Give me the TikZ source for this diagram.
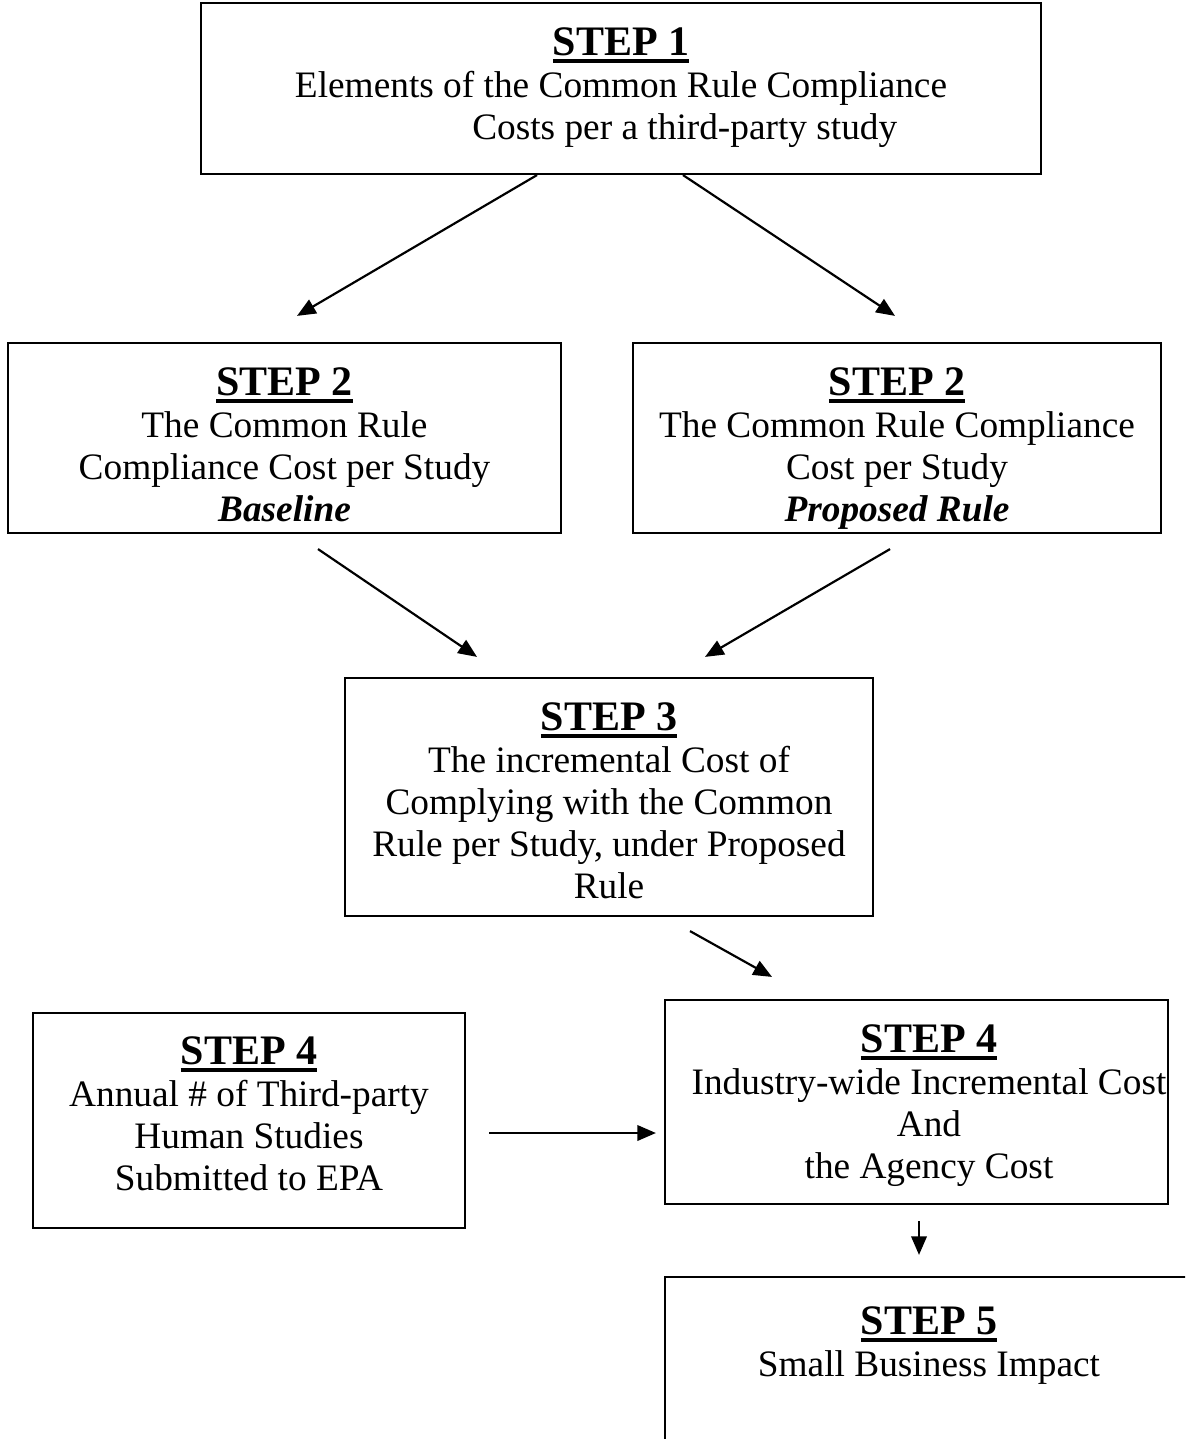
\documentclass[tikz,border=0pt]{standalone}
\usepackage{fontspec}
\setmainfont{Liberation Serif}
\usetikzlibrary{arrows.meta}
\newdimen\pxu \pxu=0.3215pt
\newcommand{\steptitle}[1]{{\fontsize{13.5pt}{13.5pt}\selectfont\bfseries\setbox0\hbox{#1}\rlap{\rule[-2.4pt]{\wd0}{1.2pt}}\box0}}

\begin{document}
\begin{tikzpicture}[x=0.3215pt,y=-0.3215pt,>={Triangle[length=6pt,width=5pt]},
  box/.style={draw,line width=0.7pt,inner sep=0pt},
  txt/.style={anchor=north,align=center,inner sep=0pt,font=\fontsize{12pt}{13.5pt}\selectfont},
  arr/.style={->,line width=0.7pt}]
  \clip (0,0) rectangle (1185,1439);
  % boxes
  \node[box,minimum width=840*\pxu,minimum height=171*\pxu] (s1) at (621,88.5) {};
  \node[box,minimum width=553*\pxu,minimum height=190*\pxu] (s2a) at (284.5,438) {};
  \node[box,minimum width=528*\pxu,minimum height=190*\pxu] (s2b) at (897,438) {};
  \node[box,minimum width=528*\pxu,minimum height=238*\pxu] (s3) at (609,797) {};
  \node[box,minimum width=432*\pxu,minimum height=215*\pxu] (s4a) at (249,1120.5) {};
  \node[box,minimum width=503*\pxu,minimum height=204*\pxu] (s4b) at (916.5,1102) {};
  \node[box,minimum width=555*\pxu,minimum height=186*\pxu] (s5) at (942.5,1370) {};
  % texts
  \node[txt] (t1) at (621,27) {\steptitle{STEP 1}\\
    Elements of the Common Rule Compliance\\
    \hspace*{41pt}Costs per a third-party study};
  \node[txt] (t2a) at (284.5,367) {\steptitle{STEP 2}\\
    The Common Rule\\ Compliance Cost per Study\\ \textbf{\textit{Baseline}}};
  \node[txt] (t2b) at (897,367) {\steptitle{STEP 2}\\
    The Common Rule Compliance\\ Cost per Study\\ \textbf{\textit{Proposed Rule}}};
  \node[txt] (t3) at (609,702) {\steptitle{STEP 3}\\
    The incremental Cost of\\ Complying with the Common\\
    Rule per Study, under Proposed\\ Rule};
  \node[txt] (t4a) at (249,1036) {\steptitle{STEP 4}\\
    Annual \# of Third-party\\ Human Studies\\ Submitted to EPA};
  \node[txt] (t4b) at (929,1024) {\steptitle{STEP 4}\\
    Industry-wide Incremental Cost\\ And\\ the Agency Cost};
  \node[txt] (t5) at (929,1306) {\steptitle{STEP 5}\\ Small Business Impact};
  % arrows
  \draw[arr] ([shift={(-84,0)}]s1.south) -- ([shift={(12.5,-26)}]s2a.north);
  \draw[arr] ([shift={(62,0)}]s1.south) -- ([shift={(-2,-26)}]s2b.north);
  \draw[arr] ([shift={(33.5,15)}]s2a.south) -- ([shift={(-132,-20)}]s3.north);
  \draw[arr] ([shift={(-7,15)}]s2b.south) -- ([shift={(96,-20)}]s3.north);
  \draw[arr] ([shift={(81,14)}]s3.south) -- ([shift={(-144.5,-22)}]s4b.north);
  \draw[arr] ([shift={(23,12.5)}]s4a.east) -- ([shift={(-8,31)}]s4b.west);
  \draw[arr] ([shift={(2.5,16)}]s4b.south) -- ([shift={(-23.5,-21)}]s5.north);
\end{tikzpicture}
\end{document}
